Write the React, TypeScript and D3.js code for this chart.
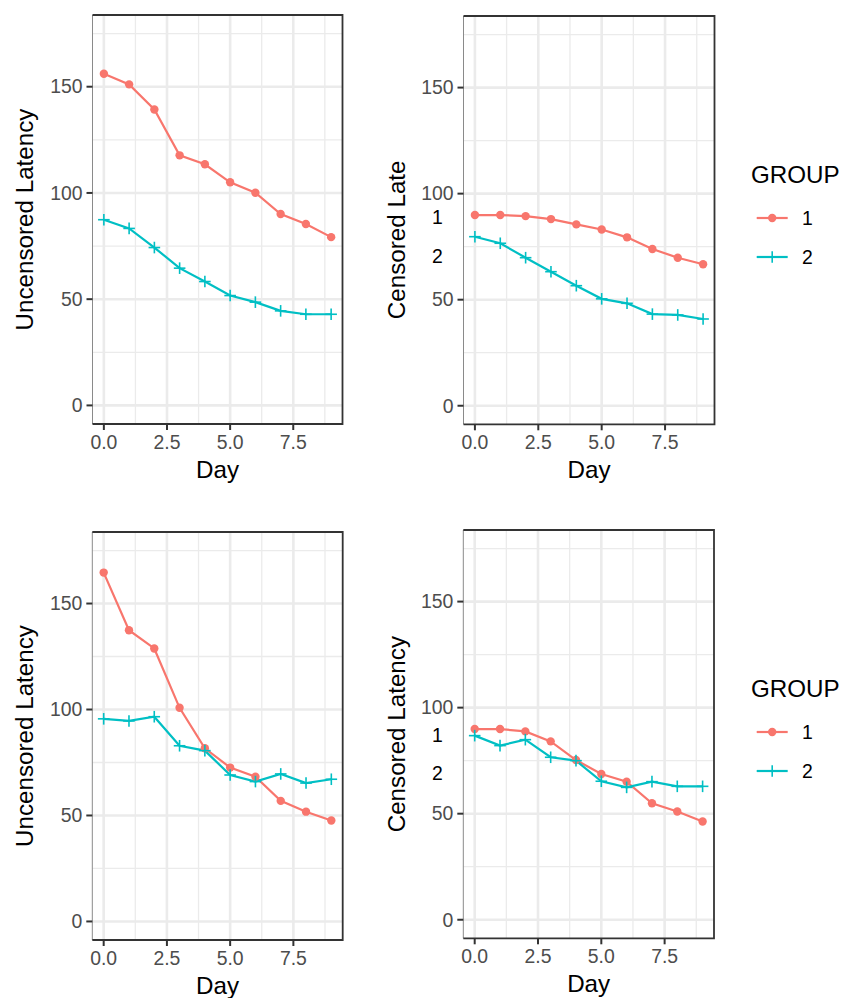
import React from "react";
import * as d3 from "d3";

const days = [0, 1, 2, 3, 4, 5, 6, 7, 8, 9];
const groups = ["1", "2"];
const colors = ["#F8766D", "#00BFC4"];
const yTicks = [0, 50, 100, 150];
const yMinor = [25, 75, 125, 175];
const xTicks = [0, 2.5, 5, 7.5];
const xMinor = [1.25, 3.75, 6.25, 8.75];

const tlG1 = [156.1, 151.1, 139.3, 117.7, 113.5, 105.0, 100.1, 90.1, 85.4, 79.2];
const tlG2 = [87.4, 83.3, 74.3, 64.6, 58.3, 51.7, 48.6, 44.5, 42.9, 42.9];
const trG1 = [89.9, 89.9, 89.4, 88.0, 85.5, 83.1, 79.4, 73.9, 69.8, 66.7];
const trG2 = [79.7, 76.6, 69.8, 63.2, 56.6, 50.4, 48.3, 43.2, 42.8, 40.9];
const blG1 = [164.6, 137.4, 128.8, 100.8, 81.7, 72.6, 68.3, 56.9, 51.8, 47.6];
const blG2 = [95.6, 94.6, 96.6, 82.9, 80.6, 69.1, 66.0, 69.6, 65.3, 67.1];
const brG1 = [89.9, 89.9, 88.8, 84.1, 75.3, 68.7, 65.1, 54.9, 51.0, 46.3];
const brG2 = [86.8, 82.1, 84.9, 76.6, 75.0, 65.3, 62.4, 65.1, 62.9, 62.9];

const FONT = "'Liberation Sans', Arial, Helvetica, sans-serif";
const TITLE = 24.2;
const TICK = 19.4;

type PanelProps = {
  left: number; right: number; top: number; bottom: number;
  series: number[][];
  yTitle: string; titleX: number; titleStart?: boolean;
};

function Panel({ left, right, top, bottom, series, yTitle, titleX, titleStart }: PanelProps) {
  const x = d3.scaleLinear().domain([-0.45, 9.45]).range([left, right]);
  const y = d3.scaleLinear().domain([-8.75, 183.75]).range([bottom, top]);
  const line = d3.line<number>().x((_, i) => x(days[i])).y((v) => y(v));
  const cy = (top + bottom) / 2;
  const cx = (left + right) / 2;
  return (
    <g>
      <rect x={left} y={top} width={right - left} height={bottom - top} fill="#fff" />
      {yMinor.map((v) => (
        <line key={"ym" + v} x1={left} x2={right} y1={y(v)} y2={y(v)} stroke="#EBEBEB" strokeWidth={1.3} />
      ))}
      {xMinor.map((v) => (
        <line key={"xm" + v} y1={top} y2={bottom} x1={x(v)} x2={x(v)} stroke="#EBEBEB" strokeWidth={1.3} />
      ))}
      {yTicks.map((v) => (
        <line key={"yM" + v} x1={left} x2={right} y1={y(v)} y2={y(v)} stroke="#EBEBEB" strokeWidth={2.6} />
      ))}
      {xTicks.map((v) => (
        <line key={"xM" + v} y1={top} y2={bottom} x1={x(v)} x2={x(v)} stroke="#EBEBEB" strokeWidth={2.6} />
      ))}
      {series.map((s, gi) => (
        <path key={"l" + gi} d={line(s) || ""} fill="none" stroke={colors[gi]} strokeWidth={2.2} />
      ))}
      {series[0].map((v, i) => (
        <circle key={"c" + i} cx={x(days[i])} cy={y(v)} r={4.2} fill={colors[0]} />
      ))}
      {series[1].map((v, i) => (
        <g key={"p" + i} stroke={colors[1]} strokeWidth={1.6}>
          <line x1={x(days[i]) - 5.8} x2={x(days[i]) + 5.8} y1={y(v)} y2={y(v)} />
          <line x1={x(days[i])} x2={x(days[i])} y1={y(v) - 5.8} y2={y(v) + 5.8} />
        </g>
      ))}
      <line x1={left} x2={left} y1={top} y2={bottom} stroke="#8a8a8a" strokeWidth={1} />
      <path d={`M${left},${top}H${right}V${bottom}H${left}`} fill="none" stroke="#333333" strokeWidth={1.8} />
      {yTicks.map((v) => (
        <g key={"yt" + v}>
          <line x1={left - 6} x2={left} y1={y(v)} y2={y(v)} stroke="#333333" strokeWidth={2} />
          <text x={left - 10} y={y(v)} dy="0.35em" textAnchor="end" fontSize={TICK} fill="#4D4D4D" fontFamily={FONT}>
            {v}
          </text>
        </g>
      ))}
      {xTicks.map((v) => (
        <g key={"xt" + v}>
          <line x1={x(v)} x2={x(v)} y1={bottom} y2={bottom + 6} stroke="#333333" strokeWidth={2} />
          <text x={x(v)} y={bottom + 25} textAnchor="middle" fontSize={TICK} fill="#4D4D4D" fontFamily={FONT}>
            {d3.format(".1f")(v)}
          </text>
        </g>
      ))}
      <text x={cx} y={bottom + 54} textAnchor="middle" fontSize={TITLE} fill="#000" fontFamily={FONT}>
        Day
      </text>
      <text
        transform={`translate(${titleX},${titleStart ? cy + 99 : cy}) rotate(-90)`}
        textAnchor={titleStart ? "start" : "middle"}
        dy="0.35em"
        fontSize={TITLE}
        fill="#000"
        fontFamily={FONT}
      >
        {yTitle}
      </text>
    </g>
  );
}

function Legend({ top, strayX, strayY }: { top: number; strayX: number; strayY: number[] }) {
  const keyX0 = 756.7;
  const keyX1 = 787.7;
  const rows = [top + 43, top + 82];
  return (
    <g fontFamily={FONT}>
      <text x={751} y={top} dy="0.35em" fontSize={TITLE} fill="#000">GROUP</text>
      {groups.map((g, i) => (
        <g key={g}>
          <line x1={keyX0} x2={keyX1} y1={rows[i]} y2={rows[i]} stroke={colors[i]} strokeWidth={2.2} />
          {i === 0 ? (
            <circle cx={(keyX0 + keyX1) / 2} cy={rows[i]} r={4.2} fill={colors[0]} />
          ) : (
            <g stroke={colors[1]} strokeWidth={1.6}>
              <line x1={(keyX0 + keyX1) / 2 - 5.8} x2={(keyX0 + keyX1) / 2 + 5.8} y1={rows[i]} y2={rows[i]} />
              <line x1={(keyX0 + keyX1) / 2} x2={(keyX0 + keyX1) / 2} y1={rows[i] - 5.8} y2={rows[i] + 5.8} />
            </g>
          )}
          <text x={802} y={rows[i]} dy="0.35em" fontSize={TICK} fill="#000">{g}</text>
          <text x={strayX} y={strayY[i]} dy="0.35em" textAnchor="middle" fontSize={TICK} fill="#000">{g}</text>
        </g>
      ))}
    </g>
  );
}

export default function App() {
  return (
    <svg
      width={844}
      height={998}
      style={{ position: "absolute", left: 0, top: 0, background: "#fff" }}
    >
      <rect x={0} y={0} width={844} height={998} fill="#fff" />
      <Panel left={92.5} right={342.5} top={15} bottom={424} series={[tlG1, tlG2]} yTitle="Uncensored Latency" titleX={25} />
      <Panel left={463.5} right={714.5} top={16} bottom={424.3} series={[trG1, trG2]} yTitle="Censored Late" titleX={397} titleStart />
      <Panel left={92.3} right={342.7} top={532} bottom={940} series={[blG1, blG2]} yTitle="Uncensored Latency" titleX={25} />
      <Panel left={463.3} right={714} top={530} bottom={938.3} series={[brG1, brG2]} yTitle="Censored Latency" titleX={397} />
      <Legend top={175} strayX={437.5} strayY={[217.7, 256.7]} />
      <Legend top={689} strayX={437.5} strayY={[735, 773.3]} />
    </svg>
  );
}
